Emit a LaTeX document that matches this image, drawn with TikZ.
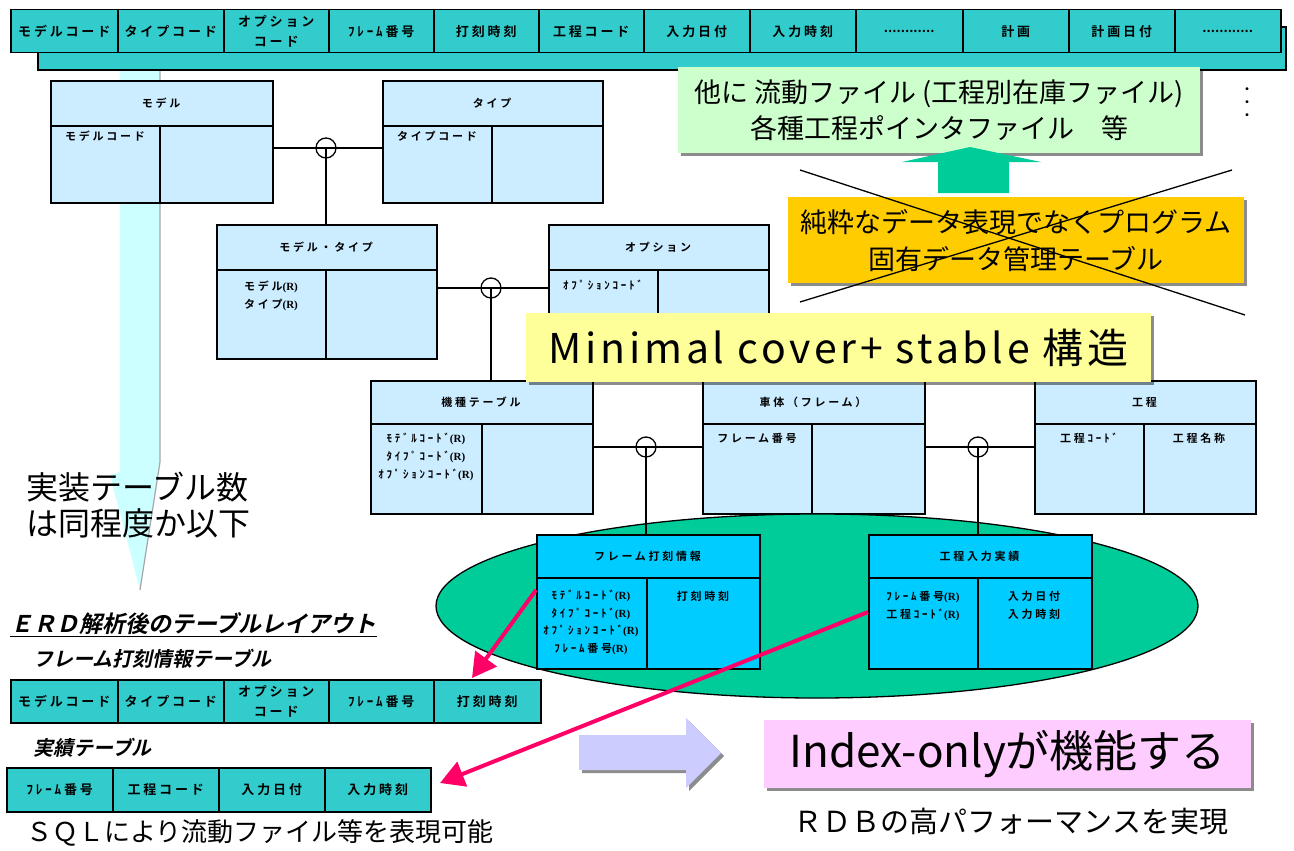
\documentclass[tikz,border=0pt]{standalone}
\usepackage{fontspec}
\setmainfont{Noto Sans CJK JP}
\newfontfamily\cellf{Noto Sans CJK JP Bold}[LetterSpace=22]
\newfontfamily\jpb{Noto Sans CJK JP Bold}
\newfontfamily\entf{Noto Sans CJK JP Bold}[LetterSpace=25]
\newfontfamily\jpbi{Noto Sans CJK JP Bold}[FakeSlant=0.22]
\newfontfamily\jpls{Noto Sans CJK JP}[LetterSpace=9]
\newfontfamily\rserif{Liberation Serif}
\usetikzlibrary{shapes.geometric,arrows.meta,shadows}
\definecolor{cTeal}{HTML}{33CCCC}
\definecolor{cEnt}{HTML}{CCECFF}
\definecolor{cCyan}{HTML}{00CCFF}
\definecolor{cEll}{HTML}{00CC99}
\definecolor{cPink}{HTML}{FF0066}
\definecolor{cYellow}{HTML}{FFFF99}
\definecolor{cGreenBox}{HTML}{CCFFCC}
\definecolor{cOrange}{HTML}{FFCC00}
\definecolor{cPinkBox}{HTML}{FFCCFF}
\definecolor{cLav}{HTML}{CCCCFF}
\definecolor{cPale}{HTML}{CCFFFF}
\newcommand\RR{{\rserif\bfseries(R)}}
\newcommand\erbox[9]{%
  \node[entbox, fill=#8, minimum width={#4-#2}, minimum height={#5-#3}] (#1) at (#2,#3) {};
  \draw[line width=1.6pt] (#2,#6) -- (#4,#6);
  \draw[line width=1.6pt] (#7,#6) -- (#7,#5);
  \node[hdr] (#1h) at ({(#2+#4)/2},{(#3+#6)/2}) {#9};
}
\begin{document}
\begin{tikzpicture}[x=1pt,y=-1pt,
  cell/.style={draw, line width=1.5pt, fill=cTeal, inner sep=0pt, align=center, anchor=north west, font=\cellf\fontsize{13}{20}\selectfont},
  entbox/.style={draw, line width=1.6pt, inner sep=0pt, anchor=north west},
  hdr/.style={font=\entf\fontsize{11}{13}\selectfont, inner sep=0pt},
  fld/.style={font=\entf\fontsize{11}{18}\selectfont, inner sep=0pt, align=center, anchor=north},
  relc/.style={circle, draw, line width=1.3pt, minimum size=20pt, inner sep=0pt},
  conn/.style={line width=1.3pt},
  pinkarrow/.style={line width=4pt, draw=cPink, -{Triangle[length=24pt,width=26pt]}},
  shbox/.style={inner sep=0pt, align=center, anchor=north west, drop shadow={shadow xshift=3pt, shadow yshift=-3pt, fill=black, opacity=0.45}},
  note/.style={inner sep=0pt, align=center},
]
\useasboundingbox (0,0) rectangle (1294,851);
\fill[white] (0,0) rectangle (1294,851);

% pale cyan down arrow
\fill[cPale] (120,70) -- (160,70) -- (160,462) -- (140,590) -- (110,475) -- (120,472) -- cycle;
\draw[gray!70, line width=1.2pt] (160,70) -- (160,462) -- (140,590);

% top bar
\draw[line width=1.5pt, fill=cTeal] (38,27) rectangle (1286,70);
\node[cell, minimum width=107, minimum height=43] (t1) at (10,9) {モデルコード};
\node[cell, minimum width=106, minimum height=43] (t2) at (117,9) {タイプコード};
\node[cell, minimum width=105, minimum height=43] (t3) at (223,9) {オプション\\コード};
\node[cell, minimum width=105, minimum height=43] (t4) at (328,9) {ﾌﾚｰﾑ番号};
\node[cell, minimum width=105, minimum height=43] (t5) at (433,9) {打刻時刻};
\node[cell, minimum width=105, minimum height=43] (t6) at (538,9) {工程コード};
\node[cell, minimum width=106, minimum height=43] (t7) at (643,9) {入力日付};
\node[cell, minimum width=106, minimum height=43] (t8) at (749,9) {入力時刻};
\node[cell, minimum width=107, minimum height=43, font=\jpb\fontsize{13}{20}\selectfont] (t9) at (855,9) {............};
\node[cell, minimum width=106, minimum height=43] (t10) at (962,9) {計画};
\node[cell, minimum width=106, minimum height=43] (t11) at (1068,9) {計画日付};
\node[cell, minimum width=106, minimum height=43, font=\jpb\fontsize{13}{20}\selectfont] (t12) at (1174,9) {............};

% green info box and dots
\node[shbox, fill=cGreenBox, minimum width=522, minimum height=86, font=\fontsize{27}{36}\selectfont] (gb) at (678,67) {他に 流動ファイル (工程別在庫ファイル)\\各種工程ポインタファイル　等};
\node[note, font=\fontsize{14}{13}\selectfont] (dots) at (1247,104) {・\\・\\・};
\fill[cEll] (938,193) -- (1009,193) -- (1009,162) -- (1041,162) -- (970,147) -- (902,162) -- (938,162) -- cycle;

% orange box with cross
\node[shbox, fill=cOrange, minimum width=456, minimum height=86, font=\fontsize{27}{37}\selectfont] (ob) at (788,197) {純粋なデータ表現でなくプログラム\\固有データ管理テーブル};
\draw[line width=1.3pt] (800,170) -- (1245,315);
\draw[line width=1.3pt] (800,302) -- (1232,170);

% entities
\erbox{mdl}{50}{80}{272}{202}{126}{160}{cEnt}{モデル}
\node[fld] (mdlf) at (105,131) {モデルコード};
\erbox{typ}{382}{80}{602}{202}{126}{492}{cEnt}{タイプ}
\node[fld] (typf) at (437,131) {タイプコード};
\erbox{mt}{216}{224}{436}{358}{270}{326}{cEnt}{モデル・タイプ}
\node[fld] (mtf) at (271,281) {モデル\RR\\タイプ\RR};
\erbox{opt}{548}{224}{768}{358}{270}{658}{cEnt}{オプション}
\node[fld] (optf) at (603,280) {ｵﾌﾟｼｮﾝｺｰﾄﾞ};
\erbox{kis}{370}{380}{592}{513}{424}{482}{cEnt}{機種テーブル}
\node[fld] (kisf) at (426,433) {ﾓﾃﾞﾙｺｰﾄﾞ\RR\\ﾀｲﾌﾟｺｰﾄﾞ\RR\\ｵﾌﾟｼｮﾝｺｰﾄﾞ\RR};
\erbox{sha}{702}{380}{924}{513}{424}{812}{cEnt}{車体（フレーム）}
\node[fld] (shaf) at (757,433) {フレーム番号};
\erbox{kot}{1034}{380}{1255}{513}{424}{1144}{cEnt}{工程}
\node[fld] (kotf1) at (1089,433) {工程ｺｰﾄﾞ};
\node[fld] (kotf2) at (1199,433) {工程名称};

% relationships (upper)
\node[relc] (r1) at (326,148) {};
\draw[conn] (mdl.east |- r1) -- (typ.west |- r1);
\draw[conn] (r1.center) -- (mt.north -| r1);
\node[relc] (r2) at (491,288) {};
\draw[conn] (mt.east |- r2) -- (opt.west |- r2);
\draw[conn] (r2.center) -- (kis.north -| r2);

% Minimal cover box
\node[shbox, fill=cYellow, minimum width=625, minimum height=69, font=\jpls\fontsize{41}{45}\selectfont] (mc) at (526,313) {Minimal cover+ stable 構造};

% ellipse and derived entities
\node[ellipse, draw, line width=1.3pt, fill=cEll, minimum width=762, minimum height=184, inner sep=0pt] (ell) at (817,606) {};
\erbox{fd}{536}{534}{759}{668}{578}{647}{cCyan}{フレーム打刻情報}
\node[fld, font=\entf\fontsize{11}{17.5}\selectfont] (fdf1) at (591,590) {ﾓﾃﾞﾙｺｰﾄﾞ\RR\\ﾀｲﾌﾟｺｰﾄﾞ\RR\\ｵﾌﾟｼｮﾝｺｰﾄﾞ\RR\\ﾌﾚｰﾑ番号\RR};
\node[fld] (fdf2) at (703,591) {打刻時刻};
\erbox{kj}{868}{534}{1091}{668}{578}{978}{cCyan}{工程入力実績}
\node[fld] (kjf1) at (923,591) {ﾌﾚｰﾑ番号\RR\\工程ｺｰﾄﾞ\RR};
\node[fld] (kjf2) at (1034,591) {入力日付\\入力時刻};

% relationships (lower)
\node[relc] (r3) at (646,447) {};
\draw[conn] (kis.east |- r3) -- (sha.west |- r3);
\draw[conn] (r3.center) -- (fd.north -| r3);
\node[relc] (r4) at (978,447) {};
\draw[conn] (sha.east |- r4) -- (kot.west |- r4);
\draw[conn] (r4.center) -- (kj.north -| r4);

% left label
\node[note, anchor=west, align=left, font=\fontsize{32}{36}\selectfont] (lbl) at (26,505) {実装テーブル数\\は同程度か以下};

% bottom-left tables
\node[note, anchor=west, font=\jpbi\fontsize{23}{25}\selectfont] (erd) at (10,625) {\underline{ＥＲＤ解析後のテーブルレイアウト}};
\node[note, anchor=west, font=\jpbi\fontsize{20}{22}\selectfont] (tt1) at (33,659) {フレーム打刻情報テーブル};
\node[cell, minimum width=107, minimum height=43] (p1) at (10,679) {モデルコード};
\node[cell, minimum width=106, minimum height=43] (p2) at (117,679) {タイプコード};
\node[cell, minimum width=105, minimum height=43] (p3) at (223,679) {オプション\\コード};
\node[cell, minimum width=105, minimum height=43] (p4) at (328,679) {ﾌﾚｰﾑ番号};
\node[cell, minimum width=107, minimum height=43] (p5) at (433,679) {打刻時刻};
\node[note, anchor=west, font=\jpbi\fontsize{20}{22}\selectfont] (tt2) at (33,748) {実績テーブル};
\node[cell, minimum width=106, minimum height=44] (q1) at (6,767) {ﾌﾚｰﾑ番号};
\node[cell, minimum width=106, minimum height=44] (q2) at (112,767) {工程コード};
\node[cell, minimum width=106, minimum height=44] (q3) at (218,767) {入力日付};
\node[cell, minimum width=106, minimum height=44] (q4) at (324,767) {入力時刻};
\node[note, anchor=west, font=\fontsize{26}{30}\selectfont] (sql) at (26,833) {ＳＱＬにより流動ファイル等を表現可能};

% bottom-right
\fill[black!45] (582,738) -- (689,738) -- (689,721) -- (724,756) -- (689,791) -- (689,773) -- (582,773) -- cycle;
\fill[cLav] (579,735) -- (686,735) -- (686,718) -- (721,753) -- (686,788) -- (686,770) -- (579,770) -- cycle;
\node[shbox, fill=cPinkBox, minimum width=487, minimum height=68, font=\fontsize{44}{46}\selectfont] (ix) at (764,720) {Index-onlyが機能する};
\node[note, font=\fontsize{29}{32}\selectfont] (rdb) at (1011,822) {ＲＤＢの高パフォーマンスを実現};

% pink arrows
\coordinate (a1s) at (536,590);
\coordinate (a1e) at (472,678);
\draw[pinkarrow] (a1s) -- (a1e);
\coordinate (a2s) at (868,612);
\coordinate (a2e) at (440,783);
\draw[pinkarrow] (a2s) -- (a2e);
\end{tikzpicture}
\end{document}
